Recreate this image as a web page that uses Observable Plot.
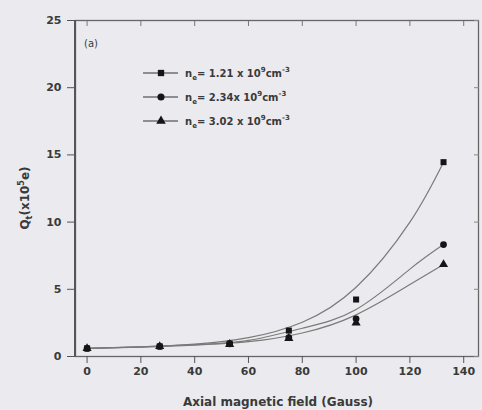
<!DOCTYPE html>
<html><head><meta charset="utf-8">
<script src="https://cdn.jsdelivr.net/npm/d3@7"></script>
<script src="https://cdn.jsdelivr.net/npm/@observablehq/plot@0.6"></script>
<style>
body{margin:0;background:#ebebef;}
#chart svg{display:block;}
</style></head>
<body><div id="chart"></div>
<script>
// measured data points
const fieldX = [0, 27, 53, 75, 100, 132.5];
const q121 = [0.6, 0.75, 0.95, 1.93, 4.24, 14.46];
const q234 = [0.6, 0.75, 0.95, 1.4, 2.8, 8.33];
const q302 = [0.6, 0.75, 0.9, 1.35, 2.5, 6.85];
// fitted curves
const fitX = [0, 20, 40, 60, 80, 100, 120, 132.5];
const fit121 = [0.6, 0.72, 0.92, 1.4, 2.55, 5.15, 10.0, 14.46];
const fit234 = [0.6, 0.72, 0.88, 1.2, 2.1, 3.5, 6.5, 8.33];
const fit302 = [0.6, 0.7, 0.85, 1.1, 1.75, 3.1, 5.35, 6.85];
const seriesNames = ["1.21", "2.34", "3.02"];
const seriesSymbols = ["square", "circle", "triangle"];
const xTicks = [0, 20, 40, 60, 80, 100, 120, 140];
const yTicks = [0, 5, 10, 15, 20, 25];

const pts = [], fits = [];
[q121, q234, q302].forEach((arr, s) => arr.forEach((v, i) => pts.push({x: fieldX[i], y: v, s: seriesNames[s]})));
[fit121, fit234, fit302].forEach((arr, s) => arr.forEach((v, i) => fits.push({x: fitX[i], y: v, s: seriesNames[s]})));

const ink = "#3a3a3a";
const plot = Plot.plot({
  width: 482, height: 410,
  marginLeft: 75, marginRight: 4, marginTop: 20, marginBottom: 54,
  style: {background: "transparent", fontFamily: "DejaVu Sans", fontSize: "11px", color: ink},
  x: {domain: [-4.3, 145.5]},
  y: {domain: [0, 25]},
  symbol: {domain: seriesNames, range: seriesSymbols},
  marks: [
    Plot.frame({stroke: "#666", strokeWidth: 1.3}),
    Plot.axisX({ticks: xTicks, tickSize: 7, tickPadding: 4, label: null, stroke: "#555", fill: ink, fontWeight: "bold"}),
    Plot.axisX({anchor: "top", ticks: xTicks, tickSize: -5, tickFormat: () => "", label: null, stroke: "#777"}),
    Plot.axisY({ticks: yTicks, tickSize: 8, tickPadding: 6, label: null, stroke: "#555", fill: ink, fontWeight: "bold"}),
    Plot.axisY({anchor: "right", ticks: yTicks, tickSize: -5, tickFormat: () => "", label: null, stroke: "#888"}),
    Plot.line(fits, {x: "x", y: "y", z: "s", curve: "natural", stroke: "#7a7a7a", strokeWidth: 1.2}),
    Plot.dot(pts, {x: "x", y: "y", symbol: "s", fill: "#151515", r: 3.4})
  ]
});
document.getElementById("chart").appendChild(plot);

const svg = d3.select(plot);
// left axis emphasis
svg.append("line").attr("x1", 75).attr("x2", 75).attr("y1", 20).attr("y2", 356)
  .attr("stroke", "#555").attr("stroke-width", 2);

// panel tag
svg.append("text").attr("x", 84).attr("y", 47).attr("text-anchor", "start").attr("font-family", "DejaVu Sans")
  .attr("font-size", 10).attr("fill", ink).text("(a)");

// y label
const yl = svg.append("text").attr("transform", "translate(29,198) rotate(-90)")
  .attr("text-anchor", "middle").attr("font-family", "DejaVu Sans").attr("font-weight", "bold")
  .attr("font-size", 12).attr("fill", ink);
yl.append("tspan").text("Q");
yl.append("tspan").attr("font-size", 8).attr("dy", 3).text("t");
yl.append("tspan").attr("dy", -3).text("(x10");
yl.append("tspan").attr("font-size", 8).attr("dy", -5).text("5");
yl.append("tspan").attr("dy", 5).text("e)");

// x label
svg.append("text").attr("x", 278).attr("y", 406).attr("text-anchor", "middle")
  .attr("font-family", "DejaVu Sans").attr("font-weight", "bold").attr("font-size", 12)
  .attr("fill", ink).text("Axial magnetic field (Gauss)");

// legend
const legendText = ["1.21 x 10", "2.34x 10", "3.02 x 10"];
seriesNames.forEach((nm, i) => {
  const y = 73 + i * 24;
  const g = svg.append("g");
  g.append("line").attr("x1", 143).attr("x2", 178).attr("y1", y).attr("y2", y)
    .attr("stroke", "#333").attr("stroke-width", 1.2);
  g.append("path").attr("transform", `translate(161,${y})`)
    .attr("d", d3.symbol(seriesSymbols[i] === "square" ? d3.symbolSquare : seriesSymbols[i] === "circle" ? d3.symbolCircle : d3.symbolTriangle, 40)())
    .attr("fill", "#151515");
  const t = g.append("text").attr("x", 185).attr("y", y + 4).attr("text-anchor", "start")
    .attr("font-family", "DejaVu Sans").attr("font-weight", "bold")
    .attr("font-size", 10).attr("fill", ink);
  t.append("tspan").text("n");
  t.append("tspan").attr("font-size", 7).attr("dy", 3).text("e");
  t.append("tspan").attr("dy", -3).text("= " + legendText[i]);
  t.append("tspan").attr("font-size", 7).attr("dy", -5).text("9");
  t.append("tspan").attr("dy", 5).text("cm");
  t.append("tspan").attr("font-size", 7).attr("dy", -5).text("-3");
});
</script></body></html>
